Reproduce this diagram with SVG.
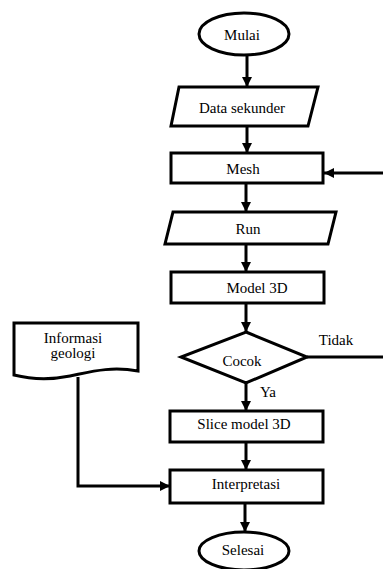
<svg xmlns="http://www.w3.org/2000/svg" width="383" height="569" viewBox="0 0 383 569">
<defs>
<marker id="ah" markerUnits="userSpaceOnUse" markerWidth="10" markerHeight="10" viewBox="0 0 10 10" refX="10" refY="5" orient="auto">
<path d="M0,0 L10,5 L0,10 Z" fill="#000"/>
</marker>
</defs>
<style>
.s{fill:#fff;stroke:#000;stroke-width:3}
.t{font-family:'Liberation Serif','DejaVu Serif',serif;font-size:15px;fill:#000;text-anchor:middle}
.c{fill:none;stroke:#000;stroke-width:3}
</style>
<rect width="383" height="569" fill="#fff"/>
<g id="connectors">
<path class="c" d="M247,55 V87" marker-end="url(#ah)"/>
<path class="c" d="M247,126 V153" marker-end="url(#ah)"/>
<path class="c" d="M246,183 V212" marker-end="url(#ah)"/>
<path class="c" d="M246,244 V272" marker-end="url(#ah)"/>
<path class="c" d="M246,303 V332" marker-end="url(#ah)"/>
<path class="c" d="M246,383 V411" marker-end="url(#ah)"/>
<path class="c" d="M246,442 V470" marker-end="url(#ah)"/>
<path class="c" d="M245,503 V532" marker-end="url(#ah)"/>
<path class="c" d="M307,357 H387 V173 H324" marker-end="url(#ah)"/>
<path class="c" d="M78,377 V486 H170" marker-end="url(#ah)"/>
</g>
<g id="mulai">
<ellipse class="s" cx="244" cy="34" rx="45" ry="21"/>
<text class="t" x="242" y="40" font-family="Liberation Serif">Mulai</text>
</g>
<g id="data-sekunder">
<polygon class="s" points="179,87 318,87 308,126 171,126"/>
<text class="t" x="242" y="113" font-family="Liberation Serif">Data sekunder</text>
</g>
<g id="mesh">
<rect class="s" x="171" y="153" width="152" height="30"/>
<text class="t" x="243" y="174">Mesh</text>
</g>
<g id="run">
<polygon class="s" points="173,212 336,212 328,244 165,244"/>
<text class="t" x="248" y="234">Run</text>
</g>
<g id="model-3d">
<rect class="s" x="171" y="272" width="153" height="31"/>
<text class="t" x="257" y="293">Model 3D</text>
</g>
<g id="cocok">
<polygon class="s" points="246,332 307,357 246,383 181,357"/>
<text class="t" x="242" y="366">Cocok</text>
</g>
<text class="t" x="336" y="345">Tidak</text>
<text class="t" x="268" y="397">Ya</text>
<g id="slice-model-3d">
<rect class="s" x="170" y="411" width="153" height="31"/>
<text class="t" x="244" y="429">Slice model 3D</text>
</g>
<g id="interpretasi">
<rect class="s" x="170" y="470" width="153" height="33"/>
<text class="t" x="246" y="489">Interpretasi</text>
</g>
<g id="selesai">
<ellipse class="s" cx="244" cy="551" rx="45" ry="19"/>
<text class="t" x="243" y="555">Selesai</text>
</g>
<g id="informasi-geologi">
<path class="s" d="M14,323 H138 V371 C110,366 90,372 70,376 C50,380 30,379 14,375 Z"/>
<text class="t" x="73" y="343">Informasi</text>
<text class="t" x="73" y="358">geologi</text>
</g>
</svg>
